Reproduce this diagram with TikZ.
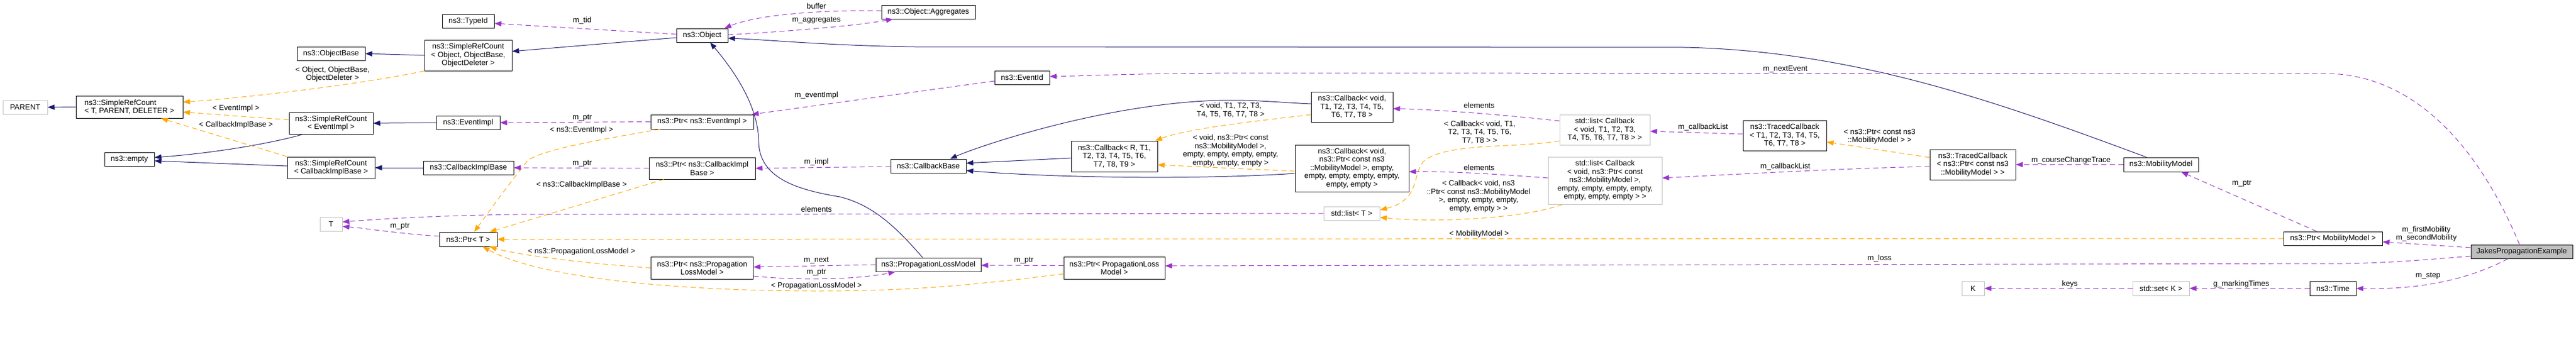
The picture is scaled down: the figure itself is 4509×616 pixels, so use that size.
\documentclass[tikz,border=0pt]{standalone}
\usepackage{fontspec}
\setmainfont{Liberation Sans}
\usetikzlibrary{arrows.meta}

\definecolor{inhblue}{HTML}{191970}
\definecolor{usepurple}{HTML}{9A32CD}
\definecolor{tplorange}{HTML}{FFA500}
\definecolor{greyline}{HTML}{BFBFBF}
\newcommand{\dxfont}{\fontsize{13.3}{14.5}\selectfont}

\begin{document}
\begin{tikzpicture}[x=1pt,y=-1pt,
    cls/.style={
        % The shape:
        rectangle,
        % The size:
        inner sep=0pt,
        % The border
        line width=1pt,
        draw=black,
        % The filling
        fill=white,
        % Font
        font=\dxfont,
        align=center
    },
    undoc/.style={cls, draw=greyline},
    wh/.style 2 args={minimum width=#1pt, minimum height=#2pt},
    lbl/.style={font=\dxfont, align=center, inner sep=0pt},
    inhedge/.style={draw=inhblue, line width=1pt, -{Triangle[length=12pt,width=9pt]}},
    useedge/.style={draw=usepurple, line width=1pt, dash pattern=on 9pt off 6pt,
        -{Triangle[length=12pt,width=9pt]}},
    tmpledge/.style={draw=tplorange, line width=1pt, dash pattern=on 9pt off 6pt,
        -{Triangle[length=12pt,width=9pt]}}
    ]
    \useasboundingbox (0,0) rectangle (4509,616);

    % classes
    \node[undoc, wh={78}{24}] (par) at (44,188) {PARENT};
    \node[cls, wh={187}{39}, align=left] (srcT) at (226.5,187.5) {ns3::SimpleRefCount\\< T, PARENT, DELETER >};
    \node[cls, wh={87}{24}] (empt) at (226.5,279) {ns3::empty};
    \node[cls, wh={119}{24}] (objBase) at (579.5,94) {ns3::ObjectBase};
    \node[cls, wh={147}{38}] (srcEv) at (579.5,216) {ns3::SimpleRefCount\\< EventImpl >};
    \node[cls, wh={153}{38}] (srcCb) at (579.5,294) {ns3::SimpleRefCount\\< CallbackImplBase >};
    \node[undoc, wh={39}{24}] (tT) at (579.5,393) {T};
    \node[cls, wh={91}{24}] (typeId) at (819.5,37) {ns3::TypeId};
    \node[cls, wh={153}{54}] (srcObj) at (819.5,97) {ns3::SimpleRefCount\\< Object, ObjectBase,\\ObjectDeleter >};
    \node[cls, wh={111}{24}] (evImpl) at (819.5,215) {ns3::EventImpl};
    \node[cls, wh={158}{24}] (cbImpl) at (820,294) {ns3::CallbackImplBase};
    \node[cls, wh={101}{25}] (ptrT) at (819.5,419.5) {ns3::Ptr< T >};
    \node[cls, wh={90}{24}] (obj) at (1229,62) {ns3::Object};
    \node[cls, wh={180}{25}] (ptrEv) at (1229,213.5) {ns3::Ptr< ns3::EventImpl >};
    \node[cls, wh={186}{38}] (ptrCb) at (1229,295) {ns3::Ptr< ns3::CallbackImpl\\Base >};
    \node[cls, wh={179}{39}] (ptrPlmNs) at (1229,469.5) {ns3::Ptr< ns3::Propagation\\LossModel >};
    \node[cls, wh={164}{24}] (aggr) at (1625,21) {ns3::Object::Aggregates};
    \node[cls, wh={96}{24}] (evId) at (1789,136) {ns3::EventId};
    \node[cls, wh={132}{24}] (cbBase) at (1625,291) {ns3::CallbackBase};
    \node[cls, wh={184}{24}] (plm) at (1625,464) {ns3::PropagationLossModel};
    \node[cls, wh={151}{54}] (cbR) at (1950.5,274) {ns3::Callback< R, T1,\\T2, T3, T4, T5, T6,\\T7, T8, T9 >};
    \node[cls, wh={177}{39}] (ptrPlm) at (1950.5,469.5) {ns3::Ptr< PropagationLoss\\Model >};
    \node[cls, wh={143}{53}] (cbVoid) at (2366.5,187.5) {ns3::Callback< void,\\T1, T2, T3, T4, T5,\\T6, T7, T8 >};
    \node[cls, wh={199}{82}] (cbMob) at (2366.5,295) {ns3::Callback< void,\\ns3::Ptr< const ns3\\::MobilityModel >, empty,\\empty, empty, empty, empty,\\empty, empty >};
    \node[undoc, wh={98}{24}] (listT) at (2366,374) {std::list< T >};
    \node[undoc, wh={158}{53}] (listCb) at (2809,227.5) {std::list< Callback\\< void, T1, T2, T3,\\T4, T5, T6, T7, T8 > >};
    \node[undoc, wh={199}{83}] (listMob) at (2809.5,316.5) {std::list< Callback\\< void, ns3::Ptr< const\\ns3::MobilityModel >,\\empty, empty, empty, empty,\\empty, empty, empty > >};
    \node[cls, wh={146}{53}] (tcT) at (3124,237.5) {ns3::TracedCallback\\< T1, T2, T3, T4, T5,\\T6, T7, T8 >};
    \node[cls, wh={150}{53}] (tcMob) at (3453,288.5) {ns3::TracedCallback\\< ns3::Ptr< const ns3\\::MobilityModel > >};
    \node[undoc, wh={39}{25}] (kK) at (3453.5,505.5) {K};
    \node[cls, wh={131}{25}] (mob) at (3782.5,288.5) {ns3::MobilityModel};
    \node[cls, wh={173}{24}] (ptrMob) at (4083.5,418) {ns3::Ptr< MobilityModel >};
    \node[undoc, wh={99}{25}] (setK) at (3782.5,505.5) {std::set< K >};
    \node[cls, wh={81}{25}] (tim) at (4083.5,505.5) {ns3::Time};
    \node[cls, wh={178}{24}, fill=greyline] (jakes) at (4414,441) {JakesPropagationExample};

    % edge labels
    \foreach \lname/\x/\y/\ltext in {
        lObj/582/130/{< Object, ObjectBase,\\ObjectDeleter >},
        lEv/413/190/{< EventImpl >},
        lCb/413/219/{< CallbackImplBase >},
        lPtrT/700/397/{m\_ptr},
        lTid/1019/36/{m\_tid},
        lEvPtr/1019/207/{m\_ptr},
        lEvT/1018/228/{< ns3::EventImpl >},
        lCbPtr/1019/287/{m\_ptr},
        lCbT/1018/324/{< ns3::CallbackImplBase >},
        lPlmT/1018/441/{< ns3::PropagationLossModel >},
        lBuf/1429/11/{buffer},
        lAggr/1429/36/{m\_aggregates},
        lEvImpl/1429/167/{m\_eventImpl},
        lImpl/1429/284/{m\_impl},
        lElemT/1429/367/{elements},
        lNext/1429/457/{m\_next},
        lPlmPtr/1429/478/{m\_ptr},
        lPlmTpl/1429/501/{< PropagationLossModel >},
        lPlmPtrB/1792/457/{m\_ptr},
        lVoidT/2154/193/{< void, T1, T2, T3,\\T4, T5, T6, T7, T8 >},
        lMobT/2154/264/{< void, ns3::Ptr< const\\ns3::MobilityModel >,\\empty, empty, empty, empty,\\empty, empty, empty >},
        lElemA/2589/185/{elements},
        lElemB/2589/294/{elements},
        lListCbT/2590/232/{< Callback< void, T1,\\T2, T3, T4, T5, T6,\\T7, T8 > >},
        lListMobT/2588/344/{< Callback< void, ns3\\::Ptr< const ns3::MobilityModel\\>, empty, empty, empty,\\empty, empty > >},
        lMobTpl/2589/410/{< MobilityModel >},
        lCbListA/2981/223/{m\_callbackList},
        lCbListB/3125/292/{m\_callbackList},
        lNextEv/3125/121/{m\_nextEvent},
        lLoss/3290/453/{m\_loss},
        lTcT/3290/239/{< ns3::Ptr< const ns3\\::MobilityModel > >},
        lCourse/3625/281/{m\_courseChangeTrace},
        lKeys/3623/498/{keys},
        lMobPtr/3924/322/{m\_ptr},
        lMark/3923/498/{g\_markingTimes},
        lMobility/4247/410/{m\_firstMobility\\m\_secondMobility},
        lStep/4250/484/{m\_step}}
    {
        \node[lbl] (\lname) at (\x,\y) {\ltext};
    }

    % inheritance
    \draw[inhedge] (srcT.west) -- (par.east);
    \draw[inhedge] ([xshift=-49.5pt]srcEv.south) .. controls (480,250) and (380,268) .. ([yshift=3pt]empt.east);
    \draw[inhedge] ([yshift=3pt]srcCb.west) -- ([yshift=-3pt]empt.east);
    \draw[inhedge] (srcObj.west) -- (objBase.east);
    \draw[inhedge] (evImpl.west) -- (srcEv.east);
    \draw[inhedge] (cbImpl.west) -- (srcCb.east);
    \draw[inhedge] ([yshift=-4pt]obj.west) -- ([yshift=7pt]srcObj.east);
    \draw[inhedge] ([xshift=-25.5pt]mob.north) .. controls (3500,180) and (3250,90) .. (2950,83)
        -- (1600,82) .. controls (1450,80) and (1350,70) .. ([yshift=-5pt]obj.east);
    \draw[inhedge] ([xshift=-10pt]plm.north) .. controls (1570,400) and (1530,360) .. (1470,345)
        .. controls (1390,332) and (1330,310) .. (1328,250)
        .. controls (1328,190) and (1290,130) .. ([xshift=14pt]obj.south);
    \draw[inhedge] ([yshift=5.5pt]cbVoid.west) .. controls (2200,178) and (2130,165) .. (1960,195)
        .. controls (1820,220) and (1700,262) .. ([xshift=38pt]cbBase.north);
    \draw[inhedge] ([yshift=-3pt]cbR.west) -- ([yshift=5pt]cbBase.east);
    \draw[inhedge] ([yshift=-9pt]cbMob.west) .. controls (2100,315) and (1850,312) .. ([yshift=-8pt]cbBase.east);

    % template instances
    \draw[tmpledge] (srcObj.south west) .. controls (620,150) and (420,172) .. ([yshift=8.5pt]srcT.east);
    \draw[tmpledge] ([yshift=6pt]srcEv.west) -- ([yshift=-9pt]srcT.east);
    \draw[tmpledge] (srcCb.north west) -- ([xshift=55.5pt]srcT.south);
    \draw[tmpledge] ([xshift=-74pt]ptrEv.south) .. controls (1050,245) and (960,260) .. (925,280)
        .. controls (900,310) and (860,365) .. ([xshift=10.5pt]ptrT.north);
    \draw[tmpledge] ([xshift=-67pt]ptrCb.south) -- ([xshift=37.5pt]ptrT.north);
    \draw[tmpledge] (ptrPlmNs.west) .. controls (1000,460) and (900,445) .. ([xshift=37.5pt]ptrT.south);
    \draw[tmpledge] ([yshift=-10.5pt]ptrPlm.west) .. controls (1700,500) and (1600,510) .. (1430,510)
        .. controls (1200,510) and (950,490) .. ([xshift=25.5pt]ptrT.south);
    \draw[tmpledge] (ptrMob.west) -- (ptrT.east);
    \draw[tmpledge] ([yshift=-13.5pt]cbVoid.west) .. controls (2200,212) and (2080,225) .. ([xshift=71.5pt]cbR.north);
    \draw[tmpledge] ([yshift=-5pt]cbMob.west) -- ([yshift=-15pt]cbR.east);
    \draw[tmpledge] ([yshift=-19.5pt]listCb.west) .. controls (2650,260) and (2540,250) .. (2495,280)
        .. controls (2470,300) and (2490,350) .. ([yshift=6pt]listT.east);
    \draw[tmpledge] ([xshift=-74.5pt]listMob.south) .. controls (2660,385) and (2500,390) .. ([yshift=-7pt]listT.east);
    \draw[tmpledge] ([yshift=12.5pt]tcMob.west) -- ([yshift=-11.5pt]tcT.east);

    % members
    \draw[useedge] ([yshift=2pt]obj.west) -- ([yshift=-4pt]typeId.east);
    \draw[useedge] ([yshift=1pt]obj.east) .. controls (1380,55) and (1500,45) .. ([xshift=-62pt]aggr.south);
    \draw[useedge] ([yshift=2pt]aggr.west) .. controls (1420,17) and (1320,28) .. ([xshift=39pt]obj.north);
    \draw[useedge] (ptrEv.west) -- (evImpl.east);
    \draw[useedge] (ptrCb.west) -- (cbImpl.east);
    \draw[useedge] ([yshift=5.5pt]ptrT.west) .. controls (700,410) and (640,400) .. ([yshift=-4pt]tT.east);
    \draw[useedge] (listT.west) -- (900,376) .. controls (750,378) and (650,385) .. ([yshift=4pt]tT.east);
    \draw[useedge] (plm.west) -- ([yshift=1.5pt]ptrPlmNs.east);
    \draw[useedge] ([yshift=-14.5pt]ptrPlmNs.east) .. controls (1400,492) and (1500,490) .. ([xshift=-58pt]plm.south);
    \draw[useedge] ([yshift=4pt]ptrPlm.west) -- ([yshift=-1pt]plm.east);
    \draw[useedge] ([yshift=-8pt]jakes.west) .. controls (4250,455) and (4180,461) .. (4100,462) -- ([yshift=3.5pt]ptrPlm.east);
    \draw[useedge] ([yshift=7pt]jakes.west) -- ([yshift=-6pt]ptrMob.east);
    \draw[useedge] ([xshift=-24pt]jakes.south) .. controls (4330,485) and (4250,508) .. (tim.east);
    \draw[useedge] ([xshift=-4pt]jakes.north) .. controls (4340,260) and (4230,135) .. (4080,129)
        -- (2200,128) .. controls (2000,128) and (1900,133) .. ([yshift=2pt]evId.east);
    \draw[useedge] (tim.west) -- (setK.east);
    \draw[useedge] (setK.west) -- (kK.east);
    \draw[useedge] ([xshift=-28.5pt]ptrMob.north) -- ([xshift=35.5pt]mob.south);
    \draw[useedge] (mob.west) -- (tcMob.east);
    \draw[useedge] ([yshift=2.5pt]tcT.west) -- ([yshift=-2.5pt]listCb.east);
    \draw[useedge] ([yshift=-3.5pt]tcMob.west) .. controls (3250,294) and (3050,305) .. ([yshift=4.5pt]listMob.east);
    \draw[useedge] ([yshift=15.5pt]listCb.west) .. controls (2650,203) and (2520,192) .. ([yshift=-3pt]cbVoid.east);
    \draw[useedge] ([yshift=4.5pt]listMob.west) .. controls (2620,305) and (2530,300) .. ([yshift=-6pt]cbMob.east);
    \draw[useedge] ([yshift=-1pt]cbBase.west) -- (ptrCb.east);
    \draw[useedge] ([yshift=-6pt]evId.west) -- ([xshift=87pt]ptrEv.north);
\end{tikzpicture}
\end{document}
